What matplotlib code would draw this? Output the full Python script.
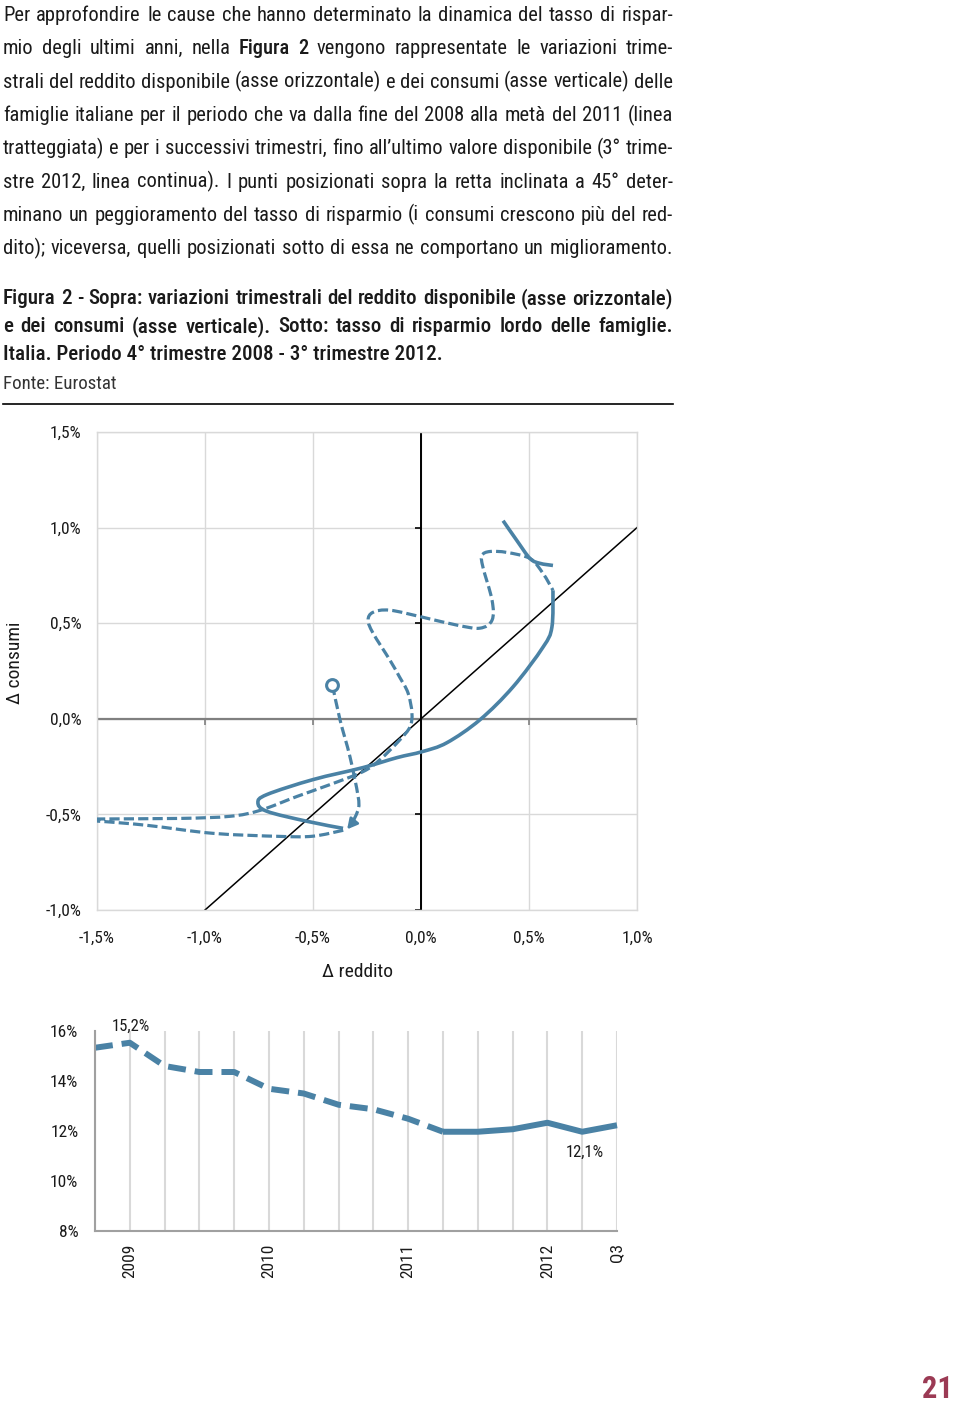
import matplotlib
matplotlib.use("Agg")
import matplotlib.pyplot as plt
from matplotlib import font_manager
from matplotlib.path import Path
from matplotlib.patches import PathPatch
from matplotlib.lines import Line2D
import numpy as np

W, H = 960, 1406

# --- fonts: prefer a narrow family, the original uses a condensed face
entries = font_manager.fontManager.ttflist
avail = {f.name for f in entries}
FONT, STRETCH = "DejaVu Sans", "normal"
for cand in ["Liberation Sans Narrow", "Roboto Condensed", "Open Sans Condensed"]:
    if cand in avail:
        FONT = cand
        break
else:
    if any(f.name == "DejaVu Sans" and f.stretch == "condensed" for f in entries):
        STRETCH = "condensed"
    elif "Roboto" in avail:
        FONT = "Roboto"
plt.rcParams["font.family"] = [FONT, "DejaVu Sans"]
plt.rcParams["font.stretch"] = STRETCH

# caption is semibold in the original, use it if the family has one
weights = {f.weight for f in entries if f.name == FONT}
CAP_W = "bold"
for w in (600, 500, "semibold", "medium"):
    if w in weights:
        CAP_W = w if isinstance(w, int) else w
        break

# --- text of the page
body_lines = [
    "Per approfondire le cause che hanno determinato la dinamica del tasso di rispar-",
    "mio degli ultimi anni, nella **Figura** **2** vengono rappresentate le variazioni trime-",
    "strali del reddito disponibile (asse orizzontale) e dei consumi (asse verticale) delle",
    "famiglie italiane per il periodo che va dalla fine del 2008 alla metà del 2011 (linea",
    "tratteggiata) e per i successivi trimestri, fino all’ultimo valore disponibile (3° trime-",
    "stre 2012, linea continua). I punti posizionati sopra la retta inclinata a 45° deter-",
    "minano un peggioramento del tasso di risparmio (i consumi crescono più del red-",
    "dito); viceversa, quelli posizionati sotto di essa ne comportano un miglioramento.",
]
caption_lines = [
    "Figura 2 - Sopra: variazioni trimestrali del reddito disponibile (asse orizzontale)",
    "e dei consumi (asse verticale). Sotto: tasso di risparmio lordo delle famiglie.",
    "Italia. Periodo 4° trimestre 2008 - 3° trimestre 2012.",
]
source = "Fonte: Eurostat"
page_no = "21"

# --- scatter: quarterly changes (%), reddito on x, consumi on y
dash_a_x = [-0.41, -0.375, -0.329, -0.292, -0.29, -0.318]
dash_a_y = [0.177, -0.005, -0.198, -0.40, -0.47, -0.545]
arrow_tip = (-0.342, -0.578)

dash_b_x = [-0.36, -0.5, -0.653, -0.963, -1.27, -1.5, -1.63, -1.5, -1.116, -0.884,
            -0.745, -0.574, -0.421, -0.268, -0.19, -0.097, -0.051, -0.042, -0.06,
            -0.1, -0.144, -0.222, -0.245, -0.222, -0.144, 0.009, 0.166, 0.273,
            0.329, 0.329, 0.287, 0.282, 0.319, 0.398, 0.505, 0.565, 0.611]
dash_b_y = [-0.583, -0.614, -0.615, -0.599, -0.557, -0.535, -0.53, -0.524, -0.521, -0.51,
            -0.479, -0.406, -0.344, -0.276, -0.214, -0.109, -0.042, 0.031, 0.135,
            0.22, 0.307, 0.448, 0.516, 0.557, 0.568, 0.531, 0.49, 0.474,
            0.516, 0.62, 0.792, 0.854, 0.875, 0.87, 0.838, 0.76, 0.672]

solid_x = [0.611, 0.606, 0.565, 0.426, 0.273, 0.12, 0.005, -0.111, -0.268,
           -0.5, -0.713, -0.755, -0.713, -0.528, -0.361]
solid_y = [0.672, 0.479, 0.375, 0.167, -0.005, -0.125, -0.172, -0.203, -0.255,
           -0.318, -0.396, -0.438, -0.484, -0.536, -0.573]

solid_top_x = [0.38, 0.444, 0.505, 0.551, 0.611]
solid_top_y = [1.036, 0.932, 0.838, 0.813, 0.802]

diag = [-1.0, 1.0]
xticks_top = [-1.5, -1.0, -0.5, 0.0, 0.5, 1.0]
yticks_top = [-1.0, -0.5, 0.0, 0.5, 1.0, 1.5]

# --- savings rate (%), 2008Q4 .. 2012Q3
savings = [15.33, 15.53, 14.6, 14.36, 14.36, 13.69, 13.5, 13.05, 12.87, 12.49,
           11.97, 11.97, 12.07, 12.33, 11.97, 12.23]
year_pos = [1, 5, 9, 13, 15]
year_lab = ["2009", "2010", "2011", "2012", "Q3"]
yticks_bot = [8, 10, 12, 14, 16]

BLUE = "#4a82a5"
TXT = "#1a1a1a"


def fx(px):
    return px / W


def fy(py):
    return 1 - py / H


def pct(v):
    return f"{v:.1f}%".replace(".", ",")


def smooth_path(xs, ys):
    p = np.column_stack([xs, ys])
    ext = np.vstack([p[0], p, p[-1]])
    verts, codes = [p[0]], [Path.MOVETO]
    for i in range(1, len(ext) - 2):
        c1 = ext[i] + (ext[i + 1] - ext[i - 1]) / 6
        c2 = ext[i + 1] - (ext[i + 2] - ext[i]) / 6
        verts += [c1, c2, ext[i + 1]]
        codes += [Path.CURVE4] * 3
    return Path(verts, codes)


fig = plt.figure(figsize=(W / 100, H / 100), dpi=100)
renderer = fig.canvas.get_renderer()


def width_of(s, size, weight="normal"):
    t = fig.text(0, 0, s, fontsize=size, fontweight=weight)
    w = t.get_window_extent(renderer).width
    t.remove()
    return w


def fit_size(lines, size, weight, maxw):
    worst = max(width_of(l.replace("**", ""), size, weight) for l in lines)
    return min(size, size * maxw / worst)


def draw_line(line, x0, x1, yb, size, weight="normal", color=TXT):
    words = line.split(" ")
    items = []
    for w in words:
        wt = weight
        if w.startswith("**") and w.endswith("**"):
            w, wt = w[2:-2], CAP_W
        items.append(fig.text(fx(x0), fy(yb), w, fontsize=size, fontweight=wt,
                              color=color, va="baseline", ha="left"))
    widths = [t.get_window_extent(renderer).width for t in items]
    gap = (x1 - x0 - sum(widths)) / (len(items) - 1)
    x = x0
    for t, w in zip(items, widths):
        t.set_x(fx(x))
        x += w + gap


# body text, justified
bsize = fit_size(body_lines, 18, "normal", 666)
for i, line in enumerate(body_lines):
    draw_line(line, 3, 673, 21 + 33.3 * i, bsize)

csize = fit_size(caption_lines[:2], 18, CAP_W, 666)
for i, line in enumerate(caption_lines[:2]):
    draw_line(line, 3, 673, 304 + 28 * i, csize, weight=CAP_W)
fig.text(fx(3), fy(360), caption_lines[2], fontsize=csize, fontweight=CAP_W,
         color=TXT, va="baseline", ha="left")
fig.text(fx(3), fy(389), source, fontsize=bsize * 0.92, color="#333333",
         va="baseline", ha="left")
fig.add_artist(Line2D([fx(3), fx(673)], [fy(404), fy(404)], color="black",
                      lw=1.2, transform=fig.transFigure))

# --- top chart
ax = fig.add_axes([fx(97), fy(910), 540 / W, 478 / H])
ax.set_xlim(-1.5, 1.0)
ax.set_ylim(-1.0, 1.5)
ax.set_xticks(xticks_top, [pct(v) for v in xticks_top])
ax.set_yticks(yticks_top, [pct(v) for v in yticks_top])
ax.grid(color="#d9d9d9", lw=1)
ax.set_axisbelow(True)
for s in ax.spines.values():
    s.set_color("#d9d9d9")
    s.set_linewidth(1)
ax.tick_params(length=0, labelsize=12.5, colors=TXT)
ax.tick_params(axis="x", pad=15)
ax.tick_params(axis="y", pad=11)

ax.axhline(0, color="#808080", lw=1.6, zorder=1)
ax.axvline(0, color="black", lw=1.4, zorder=1)
ax.plot([-1.0, -0.5, 0.5, 1.0], [0] * 4, ls="none", marker=3, ms=4,
        color="#808080", mew=1.2, clip_on=False)
ax.plot([0] * 4, [-1.0, -0.5, 0.5, 1.0], ls="none", marker=0, ms=4,
        color="black", mew=1.2, clip_on=False)
ax.plot(diag, diag, color="black", lw=1.1, zorder=2)

dash_style = (0, (3.2, 1.3))
for xs, ys in [(dash_a_x, dash_a_y), (dash_b_x, dash_b_y)]:
    ax.add_patch(PathPatch(smooth_path(xs, ys), fill=False, edgecolor=BLUE,
                           lw=2.3, linestyle=dash_style, capstyle="butt",
                           joinstyle="round", zorder=3))
for xs, ys in [(solid_x, solid_y), (solid_top_x, solid_top_y)]:
    ax.add_patch(PathPatch(smooth_path(xs, ys), fill=False, edgecolor=BLUE,
                           lw=2.6, capstyle="butt", joinstyle="round", zorder=3))
ax.plot(dash_a_x[0], dash_a_y[0], "o", mfc="white", mec=BLUE, ms=8.5, mew=2.2,
        zorder=4)
ax.annotate("", xy=arrow_tip, xytext=(dash_a_x[-1], dash_a_y[-1]),
            arrowprops=dict(arrowstyle="-|>,head_length=0.6,head_width=0.32",
                            color=BLUE, lw=2, shrinkA=0, shrinkB=0), zorder=4)

fig.text(fx(357), fy(972), "Δ reddito", ha="center", va="center",
         fontsize=14, color=TXT)
fig.text(fx(15), fy(663), "Δ consumi", ha="center", va="center",
         rotation=90, fontsize=14, color=TXT)

# --- bottom chart
q = np.arange(len(savings))
ax2 = fig.add_axes([fx(95), fy(1231), 522 / W, 200 / H])
ax2.set_xlim(0, 15)
ax2.set_ylim(8, 16)
ax2.set_yticks(yticks_bot, [f"{v}%" for v in yticks_bot])
ax2.set_xticks(year_pos, year_lab)
ax2.set_xticks(q, minor=True)
ax2.grid(axis="x", which="both", color="#d9d9d9", lw=1.5)
ax2.set_axisbelow(True)
for side in ["top", "right"]:
    ax2.spines[side].set_visible(False)
for side in ["left", "bottom"]:
    ax2.spines[side].set_color("#a0a0a0")
    ax2.spines[side].set_linewidth(1.5)
ax2.tick_params(which="both", length=0, labelsize=12.5, colors=TXT)
ax2.tick_params(axis="y", pad=12)
ax2.tick_params(axis="x", pad=9, labelrotation=90)

ax2.plot(q[:11], savings[:11], color=BLUE, lw=4.3, dashes=(3, 1.5),
         dash_capstyle="butt", dash_joinstyle="round", clip_on=False)
ax2.plot(q[10:], savings[10:], color=BLUE, lw=4.3, solid_joinstyle="round",
         solid_capstyle="butt", clip_on=False)
ax2.annotate("15,2%", xy=(1, savings[1]), xytext=(1, 12), textcoords="offset points",
             ha="center", va="center", fontsize=12, color=TXT)
ax2.annotate("12,1%", xy=(14, savings[14]), xytext=(2, -15), textcoords="offset points",
             ha="center", va="center", fontsize=12, color=TXT)

fig.text(fx(937), fy(1389), page_no, ha="center", va="center", fontsize=22,
         fontweight="bold", color="#9b3a54")

fig.savefig("out.png", dpi=100)
